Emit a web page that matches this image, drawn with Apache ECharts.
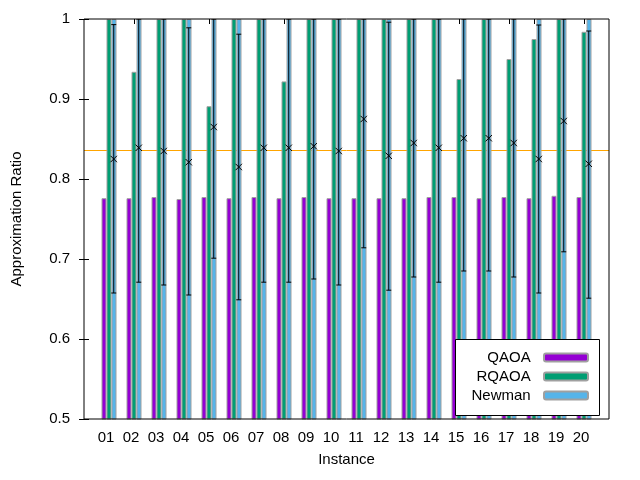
<!DOCTYPE html>
<html>
<head>
<meta charset="utf-8">
<script src="https://cdn.jsdelivr.net/npm/echarts@6.0.0/dist/echarts.min.js"></script>
<style>
  html, body { margin: 0; padding: 0; background: #fff; }
  #container { width: 640px; height: 480px; }
</style>
</head>
<body>
<div id="container"></div>
<script>
var dom = document.getElementById('container');
var myChart = echarts.init(dom, null, { renderer: 'canvas' });

// instances, placed at x = 1..20 on the value axis
let categories = ['01', '02', '03', '04', '05', '06', '07', '08', '09', '10',
  '11', '12', '13', '14', '15', '16', '17', '18', '19', '20'];
let positions = categories.map((c, i) => i + 1);

let qaoa = [0.776, 0.776, 0.7775, 0.775, 0.7775, 0.776, 0.7775, 0.776, 0.7775, 0.776,
  0.776, 0.776, 0.776, 0.7775, 0.7775, 0.776, 0.7775, 0.776, 0.779, 0.7775];
let rqaoa = [1, 0.934, 1, 1, 0.891, 1, 1, 0.922, 1, 1,
  1, 1, 1, 1, 0.925, 1, 0.95, 0.975, 1, 0.984];
let newman = [1, 1, 1, 1, 1, 1, 1, 1, 1, 1,
  1, 1, 1, 1, 1, 1, 1, 1, 1, 1];

// error bars: mean (cross), min and max
let errMean = [0.825, 0.839, 0.835, 0.821, 0.865, 0.815, 0.839, 0.839, 0.841, 0.835,
  0.875, 0.829, 0.845, 0.839, 0.851, 0.851, 0.845, 0.825, 0.8725, 0.819];
let errMin = [0.6575, 0.671, 0.6675, 0.655, 0.701, 0.649, 0.671, 0.671, 0.675, 0.6675,
  0.714, 0.661, 0.6775, 0.671, 0.685, 0.685, 0.6775, 0.6575, 0.709, 0.651];
let errMax = [0.993, 1, 1, 0.989, 1, 0.981, 1, 1, 1, 1,
  1, 0.996, 1, 1, 1, 1, 1, 0.9925, 1, 0.985];

let refLine = 0.836;

let yTicks = [0.5, 0.6, 0.7, 0.8, 0.9, 1];

const font = 'Liberation Sans, Arial, sans-serif';
const barBorder = { borderColor: '#a0a0a0', borderWidth: 1 };
const errShift = 0.19;

function pairs(values) {
  return values.map((v, i) => [positions[i], v]);
}

function errorItem(params, api) {
  const x = api.value(0) + errShift;
  const mid = api.coord([x, api.value(1)]);
  const lo = api.coord([x, api.value(2)]);
  const hi = api.coord([x, api.value(3)]);
  const cap = 2.5;
  const m = 3.2;
  const st = { stroke: '#000', lineWidth: 1 };
  return {
    type: 'group',
    children: [
      { type: 'line', shape: { x1: lo[0], y1: lo[1], x2: hi[0], y2: hi[1] }, style: st },
      { type: 'line', shape: { x1: lo[0] - cap, y1: lo[1], x2: lo[0] + cap, y2: lo[1] }, style: st },
      { type: 'line', shape: { x1: hi[0] - cap, y1: hi[1], x2: hi[0] + cap, y2: hi[1] }, style: st },
      { type: 'line', shape: { x1: mid[0] - m, y1: mid[1] - m, x2: mid[0] + m, y2: mid[1] + m }, style: st },
      { type: 'line', shape: { x1: mid[0] - m, y1: mid[1] + m, x2: mid[0] + m, y2: mid[1] - m }, style: st }
    ]
  };
}

var option = {
  animation: false,
  textStyle: { fontFamily: font },
  grid: {
    left: 84, right: 31, top: 19, bottom: 61,
    show: true, borderColor: '#000', borderWidth: 1,
    backgroundColor: 'transparent', z: 10
  },
  // frame behind the legend entries
  graphic: [
    {
      type: 'rect',
      z: 3,
      silent: true,
      shape: { x: 455.5, y: 339.5, width: 144, height: 76 },
      style: { fill: '#fff', stroke: '#000', lineWidth: 1 }
    }
  ],
  legend: {
    data: ['QAOA', 'RQAOA', 'Newman'],
    formatter: (name) => name + '  ',
    orient: 'vertical',
    align: 'right',
    right: 41,
    bottom: 65,
    padding: [11, 10, 12, 14],
    itemGap: 4,
    itemWidth: 44,
    itemHeight: 8,
    z: 5,
    textStyle: { fontSize: 15, color: '#000', fontFamily: font }
  },
  xAxis: [
    {
      type: 'value',
      min: 0,
      max: 21,
      name: 'Instance',
      nameLocation: 'middle',
      nameGap: 33,
      nameTextStyle: { fontSize: 15, color: '#000', fontFamily: font },
      splitLine: { show: false },
      axisLine: { show: false },
      axisTick: { show: true, inside: true, length: 5, customValues: positions, lineStyle: { color: '#000' } },
      axisLabel: {
        customValues: positions,
        formatter: (v) => categories[v - 1],
        fontSize: 15, color: '#000', fontFamily: font,
        margin: 11, padding: [0, 6, 0, 0]
      }
    },
    {
      type: 'value',
      position: 'top',
      min: 0,
      max: 21,
      splitLine: { show: false },
      axisLine: { show: false },
      axisTick: { show: true, inside: true, length: 5, customValues: positions, lineStyle: { color: '#000' } },
      axisLabel: { show: false }
    }
  ],
  yAxis: [
    {
      type: 'value',
      min: 0.5,
      max: 1,
      interval: 0.1,
      name: 'Approximation Ratio',
      nameLocation: 'middle',
      nameGap: 60,
      nameTextStyle: { fontSize: 15, color: '#000', fontFamily: font },
      splitLine: { show: false },
      axisLine: { show: false },
      axisTick: { show: true, inside: true, length: 5, lineStyle: { color: '#000' } },
      axisLabel: {
        customValues: yTicks,
        fontSize: 15, color: '#000', fontFamily: font, margin: 14
      }
    },
    {
      type: 'value',
      position: 'right',
      min: 0.5,
      max: 1,
      interval: 0.1,
      splitLine: { show: false },
      axisLine: { show: false },
      axisTick: { show: true, inside: true, length: 5, lineStyle: { color: '#000' } },
      axisLabel: { show: false }
    }
  ],
  series: [
    {
      name: 'ref',
      type: 'line',
      data: [],
      z: 1,
      markLine: {
        z: 1,
        silent: true,
        precision: 4,
        symbol: 'none',
        label: { show: false },
        lineStyle: { color: '#ffa500', width: 1, type: 'solid', opacity: 1 },
        data: [{ yAxis: refLine, lineStyle: { color: '#ffa500' } }]
      }
    },
    {
      name: 'QAOA',
      type: 'bar',
      data: pairs(qaoa),
      barWidth: '20%',
      barGap: '0%',
      clip: true,
      itemStyle: Object.assign({ color: '#9400d3' }, barBorder)
    },
    {
      name: 'RQAOA',
      type: 'bar',
      data: pairs(rqaoa),
      barWidth: '20%',
      barGap: '0%',
      clip: true,
      itemStyle: Object.assign({ color: '#009e73' }, barBorder)
    },
    {
      name: 'Newman',
      type: 'bar',
      data: pairs(newman),
      barWidth: '20%',
      barGap: '0%',
      clip: true,
      itemStyle: Object.assign({ color: '#56b4e9' }, barBorder)
    },
    {
      name: 'range',
      type: 'custom',
      z: 3,
      clip: true,
      renderItem: errorItem,
      encode: { x: 0, y: [1, 2, 3] },
      data: positions.map((p, i) => [p, errMean[i], errMin[i], errMax[i]])
    }
  ]
};

myChart.setOption(option);
</script>
</body>
</html>
